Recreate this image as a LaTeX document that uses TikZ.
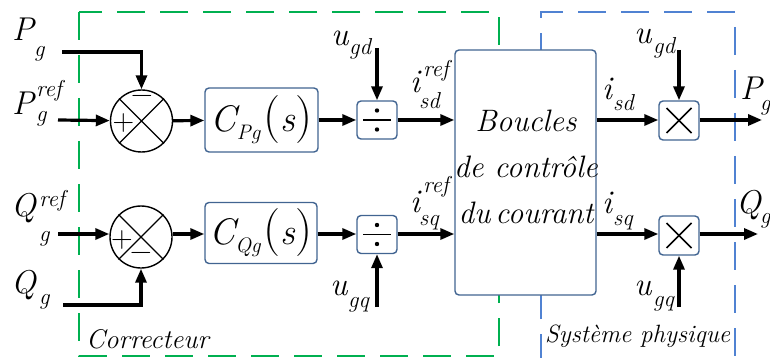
\documentclass[tikz,border=0pt]{standalone}
\usepackage{fontspec}
\usetikzlibrary{arrows.meta}
\definecolor{boxblue}{RGB}{65,100,145}
\definecolor{dgreen}{RGB}{0,176,80}
\definecolor{dblue}{RGB}{80,130,210}
\newcommand{\mfont}{\fontsize{33}{33}\selectfont\itshape}
\newcommand{\subsz}{\fontsize{23}{23}\selectfont\itshape}
\newcommand{\bigC}[1]{{\fontsize{37}{37}\selectfont\itshape C}\raisebox{-8pt}{\fontsize{21}{21}\selectfont\itshape #1}\kern3pt{\fontsize{48}{48}\selectfont(}{\fontsize{37}{37}\selectfont\itshape s}{\fontsize{48}{48}\selectfont)}}
\tikzset{
  blk/.style={draw=boxblue, line width=1.4pt, rounded corners=4pt, fill=white, inner sep=0pt, align=center},
  sumc/.style={draw, circle, line width=1.4pt, minimum size=62pt, inner sep=0pt},
  flow/.style={line width=3.2pt, -{Triangle[length=14pt,width=11pt]}},
  mainlab/.style={anchor=base west, inner sep=0pt, font=\mfont},
  sublab/.style={anchor=base west, inner sep=0pt, font=\subsz},
  sign/.style={inner sep=0pt, font=\fontsize{30}{30}\selectfont},
  frame/.style={line width=1.6pt, dash pattern=on 28pt off 15pt},
  bigtxt/.style={font=\fontsize{31}{31}\selectfont\itshape, inner sep=0pt, anchor=base},
  caption/.style={font=\fontsize{25}{25}\selectfont\itshape, inner sep=0pt, anchor=base west}
}
\begin{document}
\begin{tikzpicture}[x=1pt,y=-1pt]
\useasboundingbox (0,0) rectangle (770,358);
% frames
\draw[frame, dgreen] (79,12) rectangle (499,356);
\draw[frame, dblue] (541,362) -- (541,12) -- (735,12) -- (735,362);
% blocks
\node[sumc] (s1) at (141.5,121) {};
\node[sumc] (s2) at (141,237) {};
\node[blk, minimum width=113pt, minimum height=64pt] (cp) at (261.5,120) {\bigC{Pg}};
\node[blk, minimum width=112pt, minimum height=61pt] (cq) at (261,233) {\bigC{Qg}};
\node[blk, minimum width=40pt, minimum height=38pt] (d1) at (377,120) {};
\node[blk, minimum width=40pt, minimum height=38pt] (d2) at (377,234.5) {};
\node[blk, minimum width=141pt, minimum height=245pt] (bc) at (525.5,172.5) {};
\node[blk, minimum width=40pt, minimum height=39pt] (m1) at (679,120.5) {};
\node[blk, minimum width=40pt, minimum height=39pt] (m2) at (679,235.5) {};
% big box text
\node[bigtxt] (t1) at (526,132) {Boucles};
\node[bigtxt] (t2) at (526,178) {de contrôle};
\node[bigtxt] (t3) at (526,223) {du\,courant};
% circle crosses and signs
\draw[line width=1.4pt] (s1.45) -- (s1.225) (s1.135) -- (s1.315);
\draw[line width=1.4pt] (s2.45) -- (s2.225) (s2.135) -- (s2.315);
\node[sign] (s1m) at (142,99) {−};
\node[sign] (s1p) at (123.5,123) {+};
\node[sign] (s2p) at (122,240) {+};
\node[sign] (s2m) at (141,256) {−};
% divide symbols
\foreach \d in {d1,d2}{
  \draw[line width=1.5pt] ([xshift=-14pt]\d.center) -- ([xshift=14pt]\d.center);
  \fill ([yshift=9.5pt]\d.center) circle (2.2pt);
  \fill ([yshift=-9.5pt]\d.center) circle (2.2pt);
}
% multiply symbols
\foreach \m in {m1,m2}{
  \draw[line width=1.5pt] ([shift={(-12.5pt,-12.5pt)}]\m.center) -- ([shift={(12.5pt,12.5pt)}]\m.center);
  \draw[line width=1.5pt] ([shift={(-12.5pt,12.5pt)}]\m.center) -- ([shift={(12.5pt,-12.5pt)}]\m.center);
}
% free ends
\coordinate (pg) at (62,52);
\coordinate (pr) at (58,120);
\coordinate (qr) at (58,234);
\coordinate (qg) at (63,305);
\coordinate (ugd1) at (377,48);
\coordinate (ugq1) at (377,307);
\coordinate (ugd2) at (679,50);
\coordinate (ugq2) at (679,307);
\coordinate (po) at (762,120);
\coordinate (qo) at (758,234);
% connectors
\draw[flow] (pg) -| (s1);
\draw[flow] (pr) -- (s1);
\draw[flow] (s1) -- (cp);
\draw[flow] (cp) -- (d1);
\draw[flow] (ugd1) -- (d1);
\draw[flow] (d1) -- (d1 -| bc.west);
\draw[flow] (d1 -| bc.east) -- (m1.west |- d1);
\draw[flow] (ugd2) -- (m1);
\draw[flow] (m1.east |- d1) -- (po);
\draw[flow] (qr) -- (qr -| s2.west);
\draw[flow] (qg) -| (s2);
\draw[flow] (s2.east |- qr) -- (cq.west |- qr);
\draw[flow] (cq.east |- qr) -- (d2.west |- qr);
\draw[flow] (ugq1) -- (d2);
\draw[flow] (d2.east |- qr) -- (bc.west |- qr);
\draw[flow] (bc.east |- qr) -- (m2.west |- qr);
\draw[flow] (ugq2) -- (m2);
\draw[flow] (m2.east |- qr) -- (qo);
% labels
\node[mainlab] (lp1) at (12,41) {P};
\node[sublab] (lp1s) at (34,57) {g};
\node[mainlab] (lp2) at (12,115) {P};
\node[sublab] (lp2r) at (36,97) {ref};
\node[sublab] (lp2s) at (36,122) {g};
\node[mainlab] (lq1) at (11,216) {Q};
\node[sublab] (lq1r) at (39,206) {ref};
\node[sublab] (lq1s) at (39,241) {g};
\node[mainlab] (lq2) at (11,293) {Q};
\node[sublab] (lq2s) at (39,304) {g};
\node[mainlab] (lu1) at (331,46) {u};
\node[sublab] (lu1s) at (349,55) {gd};
\node[mainlab] (lu2) at (330,295) {u};
\node[sublab] (lu2s) at (348,307) {gq};
\node[mainlab] (li1) at (410,93) {i};
\node[sublab] (li1r) at (423,77) {ref};
\node[sublab] (li1s) at (419,109) {sd};
\node[mainlab] (li2) at (410,212) {i};
\node[sublab] (li2r) at (423,192) {ref};
\node[sublab] (li2s) at (419,225) {sq};
\node[mainlab] (li3) at (602,100) {i};
\node[sublab] (li3s) at (613,111) {sd};
\node[mainlab] (li4) at (602,213) {i};
\node[sublab] (li4s) at (613,225) {sq};
\node[mainlab] (lu3) at (634,44) {u};
\node[sublab] (lu3s) at (653,54) {gd};
\node[mainlab] (lu4) at (634,295) {u};
\node[sublab] (lu4s) at (653,306) {gq};
\node[mainlab] (lpo) at (740,100) {P};
\node[sublab] (lpo_s) at (760,111) {g};
\node[mainlab] (lqo) at (736,213) {Q};
\node[sublab] (lqo_s) at (760,223) {g};
% captions
\node[caption, font=\fontsize{27}{27}\selectfont\itshape] (cor) at (86,348) {Correcteur};
\node[caption] (sys) at (545,342) {Système physique};
\end{tikzpicture}
\end{document}
